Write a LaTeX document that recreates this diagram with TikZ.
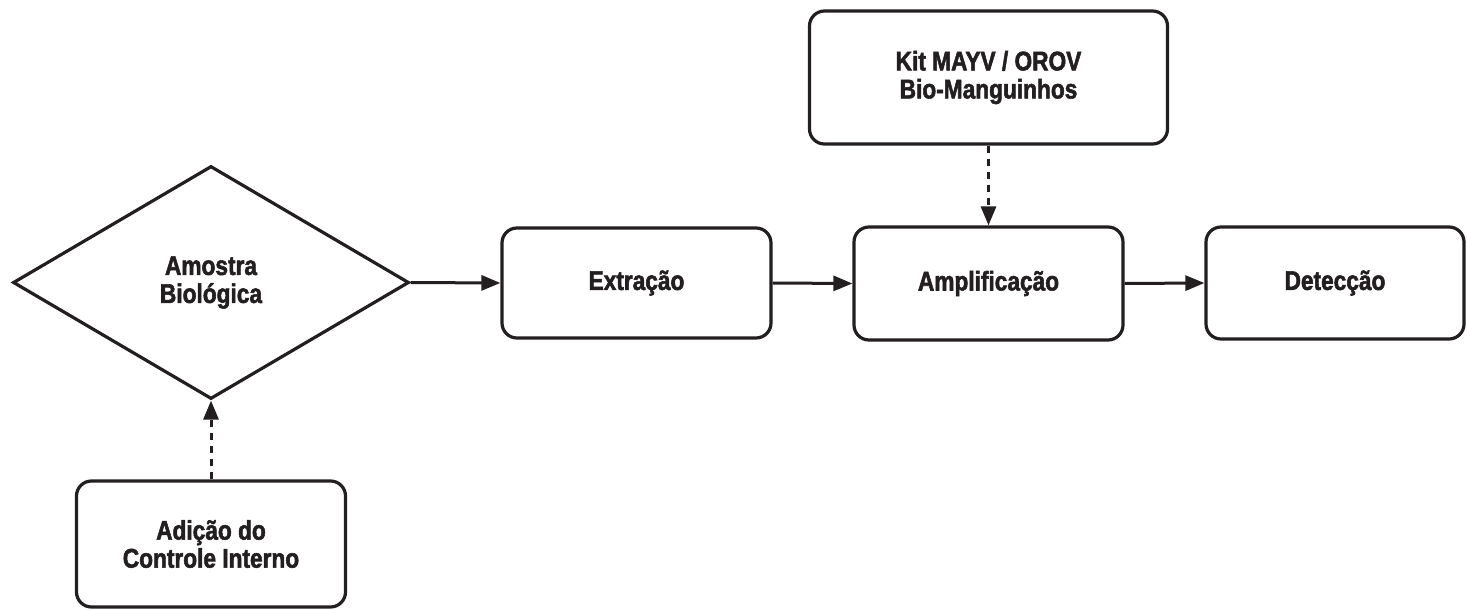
\documentclass[tikz,border=0pt]{standalone}
\usepackage{fontspec}
\setmainfont{Liberation Sans}[FakeStretch=0.84,FakeBold=2]
\usetikzlibrary{shapes.geometric,arrows.meta}
\definecolor{ink}{HTML}{231F20}
\begin{document}
\begin{tikzpicture}[x=0.5pt,y=-0.5pt,
  every node/.style={font=\bfseries\fontsize{13.5pt}{14pt}\selectfont, text=ink, align=center},
  box/.style={draw=ink, line width=1.6pt, rounded corners=7.5pt, rectangle, inner sep=0pt},
  flow/.style={draw=ink, line width=1.5pt, -{Triangle[length=9.5pt,width=7.5pt]}},
  dflow/.style={flow, dash pattern=on 3.5pt off 3pt}]
\useasboundingbox (0,0) rectangle (1467,610);
\node[draw=ink, line width=1.6pt, diamond, inner sep=0pt, minimum width=198pt, minimum height=116.5pt] (amostra) at (211,282.5) {Amostra\\Biológica};
\node[box, minimum width=134.5pt, minimum height=55pt] (extr) at (636.5,283) {Extração};
\node[box, minimum width=134.5pt, minimum height=56.5pt] (amp) at (988.5,283.5) {Amplificação};
\node[box, minimum width=129pt, minimum height=56pt] (det) at (1335,283) {Detecção};
\node[box, minimum width=179pt, minimum height=66.5pt] (kit) at (988.5,77.5) {Kit MAYV / OROV\\Bio-Manguinhos};
\node[box, minimum width=134.5pt, minimum height=63pt] (adic) at (211,544) {Adição do\\Controle Interno};
\draw[flow] (amostra.east) -- (extr.west);
\draw[flow] (extr.east) -- (amp.west);
\draw[flow] (amp.east) -- (det.west);
\draw[dflow] (kit.south) -- (amp.north);
\draw[dflow] (adic.north) -- (amostra.south);
\end{tikzpicture}
\end{document}
